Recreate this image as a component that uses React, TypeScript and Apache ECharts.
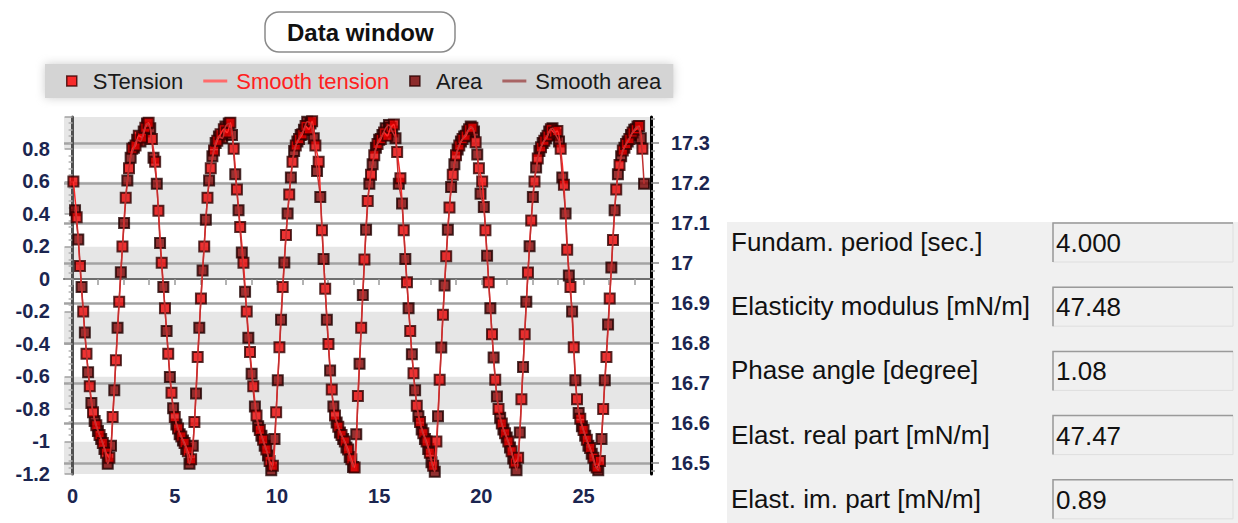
import React, { useEffect, useRef } from "react";
import * as echarts from "echarts";

const FONT = "'Liberation Sans', Arial, Helvetica, sans-serif";

// Sample times (s) of the surface tension series
const tensionTime = [
  0.04, 0.2, 0.36, 0.52, 0.68, 0.84, 1.0, 1.16, 1.32, 1.48, 1.64, 1.8, 1.96, 2.12, 2.28, 2.44, 2.6, 2.76, 2.92, 3.08, 3.24, 3.4, 3.56, 3.72, 3.88,
  4.04, 4.2, 4.36, 4.52, 4.68, 4.84, 5.0, 5.16, 5.32, 5.48, 5.64, 5.8, 5.96, 6.12, 6.28, 6.44, 6.6, 6.76, 6.92, 7.08, 7.24, 7.4, 7.56, 7.72, 7.88,
  8.04, 8.2, 8.36, 8.52, 8.68, 8.84, 9.0, 9.16, 9.32, 9.48, 9.64, 9.8, 9.96, 10.12, 10.28, 10.44, 10.6, 10.76, 10.92, 11.08, 11.24, 11.4, 11.56, 11.72, 11.88,
  12.04, 12.2, 12.36, 12.52, 12.68, 12.84, 13.0, 13.16, 13.32, 13.48, 13.64, 13.8, 13.96, 14.12, 14.28, 14.44, 14.6, 14.76, 14.92, 15.08, 15.24, 15.4, 15.56, 15.72, 15.88,
  16.04, 16.2, 16.36, 16.52, 16.68, 16.84, 17.0, 17.16, 17.32, 17.48, 17.64, 17.8, 17.96, 18.12, 18.28, 18.44, 18.6, 18.76, 18.92, 19.08, 19.24, 19.4, 19.56, 19.72, 19.88,
  20.04, 20.2, 20.36, 20.52, 20.68, 20.84, 21.0, 21.16, 21.32, 21.48, 21.64, 21.8, 21.96, 22.12, 22.28, 22.44, 22.6, 22.76, 22.92, 23.08, 23.24, 23.4, 23.56, 23.72, 23.88,
  24.04, 24.2, 24.36, 24.52, 24.68, 24.84, 25.0, 25.16, 25.32, 25.48, 25.64, 25.8, 25.96, 26.12, 26.28, 26.44, 26.6, 26.76, 26.92, 27.08, 27.24, 27.4, 27.56, 27.72, 27.88,
];

// Surface tension (left axis)
const tension = [
  0.6, 0.38, 0.08, -0.2, -0.46, -0.66, -0.82, -0.9, -0.96, -1.01, -1.07, -1.1, -0.85, -0.5, -0.14, 0.2, 0.5, 0.68, 0.8, 0.82, 0.88, 0.87, 0.93, 0.96, 0.86,
  0.72, 0.42, 0.1, -0.18, -0.46, -0.7, -0.85, -0.92, -0.97, -1.01, -1.06, -1.11, -0.88, -0.48, -0.12, 0.2, 0.5, 0.68, 0.79, 0.85, 0.89, 0.92, 0.9, 0.96, 0.8,
  0.55, 0.32, 0.1, -0.2, -0.45, -0.66, -0.84, -0.93, -0.99, -1.05, -1.12, -1.15, -0.82, -0.42, -0.05, 0.27, 0.52, 0.72, 0.82, 0.86, 0.89, 0.94, 0.92, 0.97, 0.82,
  0.72, 0.3, -0.06, -0.4, -0.68, -0.84, -0.91, -0.96, -1.0, -1.05, -1.11, -1.16, -0.72, -0.3, 0.12, 0.48, 0.64, 0.76, 0.83, 0.86, 0.9, 0.88, 0.93, 0.95, 0.78,
  0.62, 0.3, -0.02, -0.32, -0.58, -0.78, -0.88, -0.95, -1.0, -1.07, -1.15, -1.0, -0.62, -0.22, 0.14, 0.44, 0.64, 0.76, 0.82, 0.86, 0.88, 0.92, 0.93, 0.84, 0.68,
  0.6, 0.3, -0.02, -0.34, -0.62, -0.8, -0.89, -0.95, -1.0, -1.06, -1.13, -1.1, -0.74, -0.34, 0.04, 0.36, 0.6, 0.74, 0.81, 0.85, 0.88, 0.92, 0.9, 0.91, 0.8,
  0.58, 0.18, -0.05, -0.42, -0.74, -0.86, -0.93, -0.99, -1.04, -1.1, -1.16, -1.12, -0.8, -0.48, -0.12, 0.24, 0.55, 0.7, 0.79, 0.83, 0.86, 0.9, 0.92, 0.94, 0.8,
];

// Sample times (s) of the drop area series
const areaTime = [
  0.12, 0.28, 0.44, 0.6, 0.76, 0.92, 1.08, 1.24, 1.4, 1.56, 1.72, 1.88, 2.04, 2.2, 2.36, 2.52, 2.68, 2.84, 3.0, 3.16, 3.32, 3.48, 3.64, 3.8, 3.96,
  4.12, 4.28, 4.44, 4.6, 4.76, 4.92, 5.08, 5.24, 5.4, 5.56, 5.72, 5.88, 6.04, 6.2, 6.36, 6.52, 6.68, 6.84, 7.0, 7.16, 7.32, 7.48, 7.64, 7.8, 7.96,
  8.12, 8.28, 8.44, 8.6, 8.76, 8.92, 9.08, 9.24, 9.4, 9.56, 9.72, 9.88, 10.04, 10.2, 10.36, 10.52, 10.68, 10.84, 11.0, 11.16, 11.32, 11.48, 11.64, 11.8, 11.96,
  12.12, 12.28, 12.44, 12.6, 12.76, 12.92, 13.08, 13.24, 13.4, 13.56, 13.72, 13.88, 14.04, 14.2, 14.36, 14.52, 14.68, 14.84, 15.0, 15.16, 15.32, 15.48, 15.64, 15.8, 15.96,
  16.12, 16.28, 16.44, 16.6, 16.76, 16.92, 17.08, 17.24, 17.4, 17.56, 17.72, 17.88, 18.04, 18.2, 18.36, 18.52, 18.68, 18.84, 19.0, 19.16, 19.32, 19.48, 19.64, 19.8, 19.96,
  20.12, 20.28, 20.44, 20.6, 20.76, 20.92, 21.08, 21.24, 21.4, 21.56, 21.72, 21.88, 22.04, 22.2, 22.36, 22.52, 22.68, 22.84, 23.0, 23.16, 23.32, 23.48, 23.64, 23.8, 23.96,
  24.12, 24.28, 24.44, 24.6, 24.76, 24.92, 25.08, 25.24, 25.4, 25.56, 25.72, 25.88, 26.04, 26.2, 26.36, 26.52, 26.68, 26.84, 27.0, 27.16, 27.32, 27.48, 27.64, 27.8, 27.96,
];

// Drop area (right axis)
const area = [
  17.132, 17.059, 16.94, 16.826, 16.727, 16.65, 16.605, 16.58, 16.56, 16.535, 16.498, 16.543, 16.682, 16.838, 16.977, 17.1, 17.206, 17.263, 17.288, 17.308, 17.304, 17.329, 17.349, 17.337, 17.263,
  17.198, 17.05, 16.94, 16.83, 16.715, 16.637, 16.596, 16.572, 16.556, 16.535, 16.498, 16.543, 16.674, 16.838, 16.981, 17.108, 17.206, 17.267, 17.3, 17.316, 17.312, 17.341, 17.349, 17.32, 17.222,
  17.132, 17.026, 16.928, 16.813, 16.723, 16.641, 16.592, 16.568, 16.543, 16.519, 16.482, 16.56, 16.707, 16.858, 17.001, 17.124, 17.214, 17.28, 17.304, 17.32, 17.333, 17.353, 17.349, 17.312, 17.23,
  17.165, 17.01, 16.858, 16.731, 16.641, 16.601, 16.576, 16.56, 16.539, 16.515, 16.49, 16.572, 16.748, 16.92, 17.083, 17.198, 17.247, 17.288, 17.308, 17.32, 17.337, 17.345, 17.329, 17.312, 17.198,
  17.149, 17.01, 16.887, 16.772, 16.682, 16.617, 16.584, 16.56, 16.535, 16.502, 16.478, 16.617, 16.789, 16.944, 17.083, 17.19, 17.247, 17.284, 17.304, 17.316, 17.329, 17.341, 17.329, 17.271, 17.173,
  17.14, 17.018, 16.887, 16.764, 16.666, 16.613, 16.584, 16.564, 16.539, 16.511, 16.482, 16.576, 16.74, 16.903, 17.042, 17.165, 17.239, 17.28, 17.3, 17.312, 17.329, 17.337, 17.32, 17.304, 17.214,
  17.124, 16.969, 16.879, 16.707, 16.625, 16.592, 16.568, 16.543, 16.523, 16.494, 16.482, 16.56, 16.707, 16.846, 16.989, 17.132, 17.222, 17.267, 17.288, 17.304, 17.32, 17.333, 17.341, 17.312, 17.198,
];

const legendNames = ["STension", "Smooth tension", "Area", "Smooth area"];
const xLabelValues = [0, 5, 10, 15, 20, 25];
const xTickValues = [0, 1.25, 2.5, 3.75, 5, 6.25, 7.5, 8.75, 10, 11.25, 12.5, 13.75, 15, 16.25, 17.5, 18.75, 20, 21.25, 22.5, 23.75, 25, 26.25, 27.5];
const rightTickValues = [16.5, 16.6, 16.7, 16.8, 16.9, 17.0, 17.1, 17.2, 17.3];

const paramLabels = [
  "Fundam. period [sec.]",
  "Elasticity modulus [mN/m]",
  "Phase angle [degree]",
  "Elast. real part [mN/m]",
  "Elast. im. part [mN/m]",
];
const paramValues = ["4.000", "47.48", "1.08", "47.47", "0.89"];

const pairs = (xs: number[], ys: number[]) => xs.map((x, i) => [x, ys[i]]);
const fmt1 = (v: number) => String(Math.round(v * 10) / 10);

const LABEL_COLOR = "#1b2550";

function buildPanel() {
  const els: any[] = [];
  els.push({
    type: "rect",
    shape: { x: 727, y: 222, width: 511, height: 301 },
    style: { fill: "#f0f0f0" },
    silent: true,
  });
  paramLabels.forEach((label, i) => {
    const cy = 242 + i * 64.2;
    els.push({
      type: "text",
      x: 731,
      y: cy,
      style: { text: label, fontFamily: FONT, fontSize: 26, fill: "#111", verticalAlign: "middle", align: "left" },
      silent: true,
    });
    const bx = 1053;
    const by = cy - 19;
    els.push({
      type: "rect",
      shape: { x: bx, y: by, width: 180, height: 39 },
      style: { fill: "#f0f0f0", stroke: "#dedede", lineWidth: 1 },
      silent: true,
    });
    els.push({
      type: "polyline",
      shape: { points: [[bx, by + 39], [bx, by], [bx + 180, by]] },
      style: { stroke: "#9a9a9a", lineWidth: 1.5, fill: null },
      silent: true,
    });
    els.push({
      type: "text",
      x: bx + 3,
      y: cy + 1,
      style: { text: paramValues[i], fontFamily: FONT, fontSize: 26, fill: "#111", verticalAlign: "middle", align: "left" },
      silent: true,
    });
  });
  return els;
}

export default function App() {
  const ref = useRef<HTMLDivElement>(null);
  useEffect(() => {
    if (!ref.current) return;
    const chart = echarts.init(ref.current, null, { renderer: "svg" });
    const axisLabelStyle = { fontFamily: FONT, fontSize: 20, fontWeight: "bold", color: LABEL_COLOR };
    const option: any = {
      animation: false,
      backgroundColor: "#ffffff",
      title: {
        text: "Data window",
        left: 265,
        top: 12,
        padding: [7, 22],
        borderColor: "#8a8a8a",
        borderWidth: 1.5,
        borderRadius: 14,
        backgroundColor: "#ffffff",
        textStyle: { fontFamily: FONT, fontSize: 24, fontWeight: "bold", color: "#111", lineHeight: 26 },
      },
      legend: {
        left: 45,
        top: 64,
        padding: [6, 12, 6, 21],
        backgroundColor: "#d4d4d4",
        shadowBlur: 10,
        shadowColor: "rgba(200,200,200,0.9)",
        itemWidth: 24,
        itemHeight: 10,
        itemGap: 20,
        symbolKeepAspect: true,
        selectedMode: false,
        textStyle: { fontFamily: FONT, fontSize: 22, color: "#1a1a1a", padding: [0, 0, 0, 4] },
        data: [
          { name: legendNames[0], icon: "path://M0,0H10V10H0Z", itemStyle: { color: "#ff0000", borderColor: "#3a0000", borderWidth: 1.5 } },
          { name: legendNames[1], icon: "path://M0,0H24V3H0Z", itemStyle: { color: "#ff6a6a", borderWidth: 0 }, textStyle: { color: "#ff2020" } },
          { name: legendNames[2], icon: "path://M0,0H10V10H0Z", itemStyle: { color: "#7a0000", borderColor: "#2a0000", borderWidth: 1.5 } },
          { name: legendNames[3], icon: "path://M0,0H24V3H0Z", itemStyle: { color: "#a86464", borderWidth: 0 } },
        ],
      },
      grid: { left: 64, right: 587, top: 117, bottom: 49 },
      xAxis: {
        type: "value",
        min: -0.42,
        max: 28.3,
        axisLine: { show: true, lineStyle: { color: "#6e6e6e", width: 2 } },
        axisTick: { show: true, length: 6, customValues: xTickValues, lineStyle: { color: "#9a9a9a", width: 1.5 } },
        axisLabel: { ...axisLabelStyle, customValues: xLabelValues, margin: 12 },
        splitLine: { show: false },
      },
      yAxis: [
        {
          type: "value",
          position: "left",
          min: -1.2,
          max: 0.996,
          interval: 0.2,
          axisLine: { show: true, lineStyle: { color: "#505050", width: 3 } },
          axisTick: { show: true, length: 8, lineStyle: { color: "#a0a0a0", width: 1.5 } },
          minorTick: { show: true, splitNumber: 5, length: 4, lineStyle: { color: "#b0b0b0", width: 1.5 } },
          axisLabel: { ...axisLabelStyle, showMaxLabel: false, margin: 14, formatter: fmt1 },
          splitLine: { show: false },
          splitArea: { show: true, areaStyle: { color: ["#e6e6e6", "#ffffff"] } },
        },
        {
          type: "value",
          position: "right",
          min: 16.4725,
          max: 17.365,
          splitNumber: 9,
          axisLine: { show: true, lineStyle: { color: "#000000", width: 3 } },
          axisTick: { show: true, length: 8, customValues: rightTickValues, lineStyle: { color: "#8a8a8a", width: 1.5 } },
          minorTick: { show: true, splitNumber: 5, length: 4, lineStyle: { color: "#9a9a9a", width: 1.5 } },
          axisLabel: { ...axisLabelStyle, customValues: rightTickValues, margin: 20, formatter: fmt1 },
          splitLine: { show: true, lineStyle: { color: "#a3a3a3", width: 2.5 } },
          splitArea: { show: false },
        },
      ],
      series: [
        {
          name: legendNames[2],
          type: "scatter",
          yAxisIndex: 1,
          data: pairs(areaTime, area),
          symbol: "rect",
          symbolSize: 10,
          itemStyle: { color: "#7a0000", borderColor: "#200000", borderWidth: 2 },
          z: 3,
        },
        {
          name: legendNames[0],
          type: "scatter",
          yAxisIndex: 0,
          data: pairs(tensionTime, tension),
          symbol: "rect",
          symbolSize: 10,
          itemStyle: { color: "#e80000", borderColor: "#300000", borderWidth: 2 },
          z: 4,
        },
        {
          name: legendNames[1],
          type: "line",
          yAxisIndex: 0,
          data: pairs(tensionTime, tension),
          smooth: 0.3,
          symbol: "none",
          showSymbol: false,
          lineStyle: { color: "#ff2a2a", width: 1.5 },
          itemStyle: { color: "#ff6a6a" },
          z: 5,
        },
        {
          name: legendNames[3],
          type: "line",
          yAxisIndex: 1,
          data: pairs(areaTime, area),
          smooth: 0.3,
          symbol: "none",
          showSymbol: false,
          lineStyle: { color: "#c03030", width: 1.5 },
          itemStyle: { color: "#a86464" },
          z: 5,
        },
      ],
      graphic: buildPanel(),
    };
    chart.setOption(option);
    return () => chart.dispose();
  }, []);
  return (
    <div
      ref={ref}
      style={{ position: "fixed", left: 0, top: 0, width: 1238, height: 523, background: "#ffffff" }}
    />
  );
}
